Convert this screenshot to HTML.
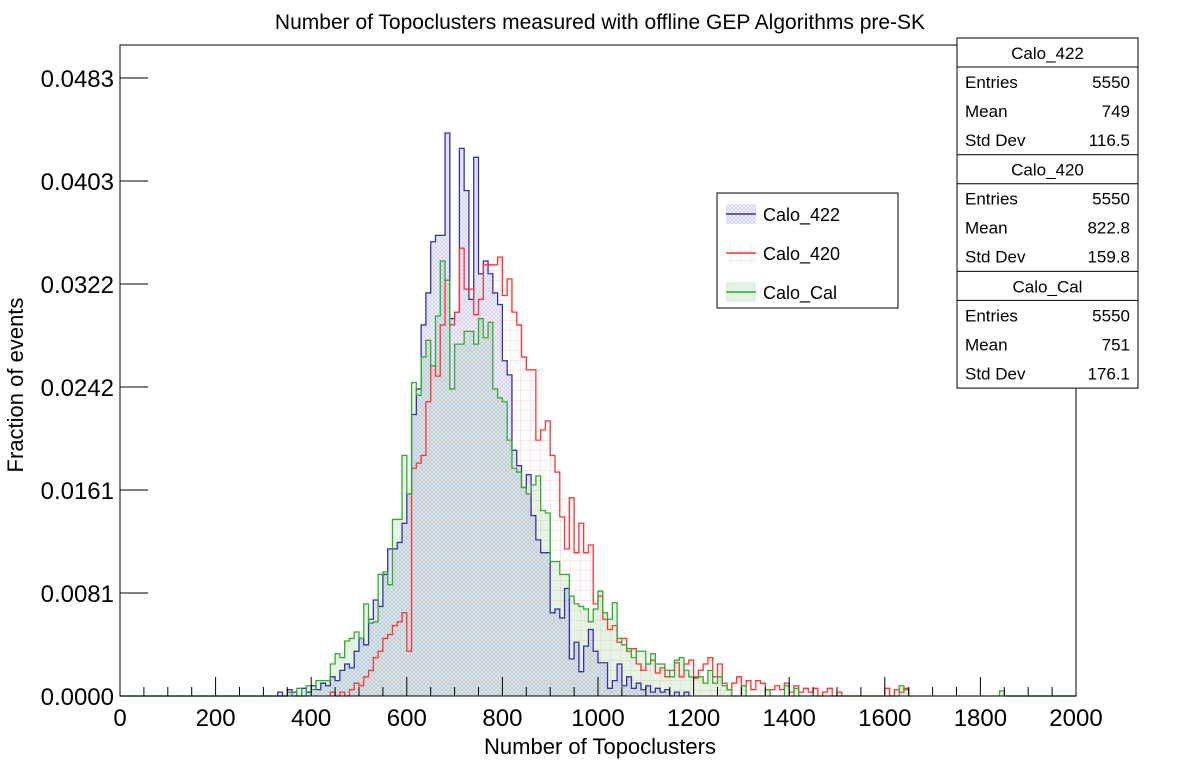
<!DOCTYPE html>
<html><head><meta charset="utf-8"><style>
body{margin:0;background:#fff;width:1198px;height:775px;overflow:hidden}
svg{font-family:"Liberation Sans",Arial,sans-serif}
</style></head><body>
<svg id="chart" width="1198" height="775" viewBox="0 0 1198 775" xmlns="http://www.w3.org/2000/svg">
<defs>
<pattern id="hatchBlue" width="4" height="4" patternUnits="userSpaceOnUse"><rect width="4" height="4" fill="#f1f1ff"/><path d="M0 0L4 4M4 0L0 4" stroke="#c8c8f4" stroke-width="0.6"/></pattern>
<pattern id="gridRed" width="10" height="10" patternUnits="userSpaceOnUse"><path d="M0 0H10M0 0V10" stroke="#fbd0d0" stroke-width="1"/></pattern>
</defs>
<text x="600" y="29" font-size="21" text-anchor="middle">Number of Topoclusters measured with offline GEP Algorithms pre-SK</text>
<g id="plot"></g>
<rect x="120" y="45" width="956" height="651" fill="none" stroke="#000" stroke-width="1"/>
<g id="axes"></g>
<text x="600" y="754" font-size="22" text-anchor="middle">Number of Topoclusters</text>
<text transform="translate(23,385) rotate(-90)" font-size="22" text-anchor="middle">Fraction of events</text>
<g>
<rect x="717" y="193" width="181" height="115" fill="#fff" stroke="#000"/>
<g><rect x="726" y="204" width="30" height="20" fill="url(#hatchBlue)"/><line x1="726" y1="214" x2="756" y2="214" stroke="#3333aa" stroke-width="1.5"/><text x="763" y="221" font-size="18">Calo_422</text></g>
<g><rect x="726" y="243" width="30" height="20" fill="url(#gridRed)"/><line x1="726" y1="253" x2="756" y2="253" stroke="#ff3333" stroke-width="1.5"/><text x="763" y="260" font-size="18">Calo_420</text></g>
<g><rect x="726" y="282" width="30" height="20" fill="#e3f3e3"/><line x1="726" y1="292" x2="756" y2="292" stroke="#33aa33" stroke-width="1.5"/><text x="763" y="299" font-size="18">Calo_Cal</text></g>
</g>
<g id="stats"></g>
</svg>
<script>
const binWidth = 10;
const c422Start = 330;
const c422Values = [0.0003,0,0.0005,0.0003,0,0.0006,0.0003,0.0008,0.0005,0.001,0.0008,0.0015,0.0012,0.002,0.0025,0.0022,0.0035,0.0045,0.004,0.006,0.0075,0.007,0.0095,0.0115,0.0115,0.012,0.0135,0.0158,0.022,0.024,0.029,0.0315,0.0355,0.036,0.036,0.044,0.0295,0.03,0.0428,0.0395,0.031,0.0421,0.033,0.034,0.033,0.0315,0.0306,0.0262,0.0251,0.0192,0.018,0.0163,0.0173,0.0141,0.0122,0.0112,0.0112,0.0065,0.0068,0.0061,0.0084,0.0029,0.0042,0.0019,0.0039,0.0052,0.0035,0.0026,0.0026,0.0006,0.0012,0.0025,0.0008,0.0015,0.0006,0.001,0.0005,0.0008,0.0003,0.0006,0.0003,0.0005,0,0.0003,0,0.0003];
const c420Start = 440;
const c420Values = [0.0003,0,0.0003,0,0.0005,0.001,0.0008,0.0015,0.002,0.003,0.0035,0.0045,0.0048,0.0055,0.0058,0.0065,0.0035,0.0178,0.0182,0.0188,0.023,0.0258,0.025,0.029,0.0325,0.029,0.03,0.035,0.0318,0.0318,0.0298,0.031,0.0337,0.0337,0.0337,0.0343,0.0313,0.0326,0.03,0.029,0.0265,0.0255,0.0255,0.02,0.0208,0.0215,0.0188,0.0175,0.014,0.0115,0.0155,0.0112,0.0135,0.0112,0.0118,0.0072,0.0078,0.006,0.0052,0.0055,0.0042,0.0045,0.0035,0.0037,0.0025,0.002,0.0025,0.0028,0.0018,0.0022,0.0015,0.002,0.0026,0.0015,0.0025,0.0028,0.0014,0.002,0.0025,0.003,0.0015,0.0025,0.001,0.0005,0.001,0.0015,0.0008,0.0012,0.0005,0.0012,0.001,0.0005,0.0005,0.0008,0.0005,0.001,0.0003,0.0008,0.0003,0.0006,0.0003,0.0006,0,0.0003,0.0006,0,0.0003,0,0,0,0,0,0,0,0,0,0.0006,0,0.0005,0.0003,0.0006];
const calStart = 350;
const calValues = [0.0003,0,0.0006,0,0.0008,0.0005,0.0012,0.0012,0.0012,0.0025,0.0033,0.003,0.0043,0.0045,0.005,0.0045,0.0072,0.0057,0.0058,0.0095,0.0097,0.0087,0.0138,0.0138,0.0188,0.0158,0.0245,0.0235,0.0265,0.0278,0.0258,0.0297,0.034,0.0325,0.024,0.0275,0.0275,0.0285,0.0285,0.0275,0.0295,0.028,0.0292,0.024,0.0233,0.023,0.02,0.0178,0.0175,0.0163,0.0158,0.0165,0.0172,0.0145,0.0143,0.0105,0.0105,0.0095,0.0095,0.0078,0.0072,0.007,0.0068,0.0058,0.0068,0.0082,0.0065,0.006,0.0073,0.0045,0.004,0.0037,0.003,0.0035,0.0035,0.0025,0.0033,0.0025,0.0025,0.002,0.0015,0.0028,0.003,0.002,0.0015,0.0015,0.0015,0.001,0.002,0.001,0.0015,0.0008,0.0005,0,0,0.0008,0,0,0,0,0.0005,0,0,0,0.0008,0,0.0006,0,0,0,0,0,0,0,0,0,0,0,0,0,0,0,0,0,0,0,0,0,0.0008,0.0005,0,0,0,0,0,0,0,0,0,0,0,0,0,0,0,0,0,0,0,0.0004];
const yTickLabels = ["0.0000","0.0081","0.0161","0.0242","0.0322","0.0403","0.0483"];
const yTickValues = [0,0.00805,0.0161,0.02415,0.0322,0.04025,0.0483];
const xTickValues = [0,200,400,600,800,1000,1200,1400,1600,1800,2000];
const statsNames = ["Calo_422","Calo_420","Calo_Cal"];
const statsEntries = ["5550","5550","5550"];
const statsMeans = ["749","822.8","751"];
const statsStd = ["116.5","159.8","176.1"];

const NS = "http://www.w3.org/2000/svg";
const X0=120, X1=1076, Y0=696, Ytop=78;
const xs = v => X0 + v/2000*(X1-X0);
const ys = v => Y0 - v/0.0483*(Y0-Ytop);
function mk(tag, attrs, parent){const e=document.createElementNS(NS,tag);for(const k in attrs)e.setAttribute(k,attrs[k]);parent.appendChild(e);return e;}
function stepPath(start, vals){
  let d = "M"+xs(start)+","+Y0;
  vals.forEach((v,i)=>{const a=xs(start+i*binWidth), b=xs(start+(i+1)*binWidth);d+=" L"+a+","+ys(v)+" L"+b+","+ys(v);});
  return d;
}
const plot=document.getElementById("plot");
const series=[
 {name:"calo-422",start:c422Start,vals:c422Values,fill:"url(#hatchBlue)",stroke:"#3333aa"},
 {name:"calo-420",start:c420Start,vals:c420Values,fill:"url(#gridRed)",stroke:"#ff3333"},
 {name:"calo-cal",start:calStart,vals:calValues,fill:"rgba(60,170,60,0.13)",stroke:"#33aa33"}];
series.forEach(s=>{
  const end=s.start+s.vals.length*binWidth;
  const f=mk("path",{d:stepPath(s.start,s.vals)+" L"+xs(end)+","+Y0+" Z",fill:s.fill,stroke:"none"},plot);
  
  
});
series.forEach(s=>{
  const end=s.start+s.vals.length*binWidth;
  const p=mk("path",{d:stepPath(s.start,s.vals)+" L"+xs(end)+","+Y0,fill:"none",stroke:s.stroke,"stroke-width":1.3},plot);
  
  
});
const gl=mk("line",{x1:X0,y1:Y0,x2:xs(calStart),y2:Y0,stroke:"#33aa33","stroke-width":1.5},plot);


const gr=mk("line",{x1:xs(calStart+calValues.length*binWidth),y1:Y0,x2:X1,y2:Y0,stroke:"#33aa33","stroke-width":1.5},plot);



const axes=document.getElementById("axes");
yTickValues.forEach((v,i)=>{
  const y=ys(v);
  const t=mk("line",{x1:X0,y1:y,x2:X0+28,y2:y,stroke:"#000"},axes);
  
  
  const l=mk("text",{x:X0-6,y:y+9,"font-size":24,"text-anchor":"end"},axes);
  l.textContent=yTickLabels[i];
  
  
});
for(let v=0; v<=2000; v+=50){
  const major = v%200===0;
  const t=mk("line",{x1:xs(v),y1:Y0,x2:xs(v),y2:Y0-(major?19:9),stroke:"#000"},axes);
  
  
}
xTickValues.forEach(v=>{
  const l=mk("text",{x:xs(v),y:Y0+30,"font-size":24,"text-anchor":"middle"},axes);
  l.textContent=String(v);
  
  
});

const st=document.getElementById("stats");
const bx=957,bw=181,secH=116.7,boxTop=38;
mk("rect",{x:bx,y:boxTop,width:bw,height:secH*3,fill:"#fff",stroke:"#000"},st);
statsNames.forEach((n,i)=>{
  const y0=boxTop+i*secH;
  const g=mk("g",{},st);
  
  
  if(i>0) mk("line",{x1:bx,y1:y0,x2:bx+bw,y2:y0,stroke:"#000"},g);
  mk("line",{x1:bx,y1:y0+29,x2:bx+bw,y2:y0+29,stroke:"#000"},g);
  const h=mk("text",{x:bx+bw/2,y:y0+21,"font-size":17,"text-anchor":"middle"},g);h.textContent=n;
  const rows=[["Entries",statsEntries[i]],["Mean",statsMeans[i]],["Std Dev",statsStd[i]]];
  rows.forEach((r,j)=>{
    const yy=y0+50+j*29;
    const a=mk("text",{x:bx+8,y:yy,"font-size":17},g);a.textContent=r[0];
    const b=mk("text",{x:bx+bw-8,y:yy,"font-size":17,"text-anchor":"end"},g);b.textContent=r[1];
  });
});
</script>
</body></html>
